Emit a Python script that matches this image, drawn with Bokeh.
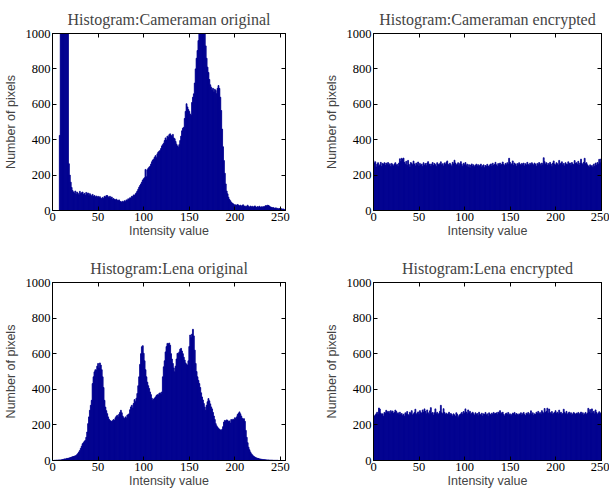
from bokeh.plotting import figure
from bokeh.layouts import column, row
from bokeh.models import ColumnDataSource, Range1d, FixedTicker, LinearAxis
from bokeh.embed import file_html
from bokeh.resources import INLINE

# ---- data (pixel counts per intensity level 0..255) ----
bins = list(range(256))

titles = ["Histogram:Cameraman original", "Histogram:Cameraman encrypted",
          "Histogram:Lena original", "Histogram:Lena encrypted"]
x_label = "Intensity value"
y_label = "Number of pixels"
x_ticks = [0, 50, 100, 150, 200, 250]
y_ticks = [0, 200, 400, 600, 800, 1000]

cam_orig = [
    0, 0, 0, 0, 0, 0, 0, 0, 424, 1450, 2600, 3100, 2900, 2400, 1900, 1500,
    1200, 1020, 264, 200, 160, 130, 113, 105, 98, 110, 92, 104, 96, 88, 108, 95,
    100, 104, 90, 97, 86, 102, 93, 99, 84, 95, 88, 80, 91, 79, 85, 76,
    82, 74, 80, 72, 78, 70, 66, 74, 68, 80, 76, 84, 85, 78, 72, 80,
    70, 76, 64, 68, 62, 60, 64, 58, 55, 60, 52, 50, 47, 52, 48, 55,
    50, 60, 56, 66, 62, 72, 70, 80, 78, 88, 85, 94, 100, 110, 120, 132,
    141, 150, 160, 172, 179, 185, 232, 190, 230, 238, 245, 250, 262, 275, 285, 290,
    301, 310, 298, 320, 330, 335, 339, 350, 365, 372, 380, 395, 410, 398, 420, 415,
    428, 433, 425, 418, 430, 410, 405, 390, 375, 365, 358, 372, 395, 420, 450, 465,
    470, 520, 560, 603, 585, 570, 560, 545, 537, 610, 640, 659, 720, 800, 860, 904,
    960, 1050, 1150, 1250, 1300, 1200, 1080, 1010, 930, 860, 810, 780, 740, 710, 697, 680,
    690, 670, 685, 678, 660, 690, 706, 690, 640, 565, 460, 360, 282, 210, 150, 110,
    94, 75, 62, 55, 47, 42, 38, 34, 30, 32, 28, 34, 30, 26, 30, 24,
    28, 32, 22, 26, 20, 24, 30, 22, 19, 25, 20, 24, 18, 22, 26, 20,
    18, 22, 19, 24, 17, 21, 18, 22, 20, 24, 28, 26, 30, 28, 24, 20,
    18, 15, 17, 14, 12, 15, 10, 12, 9, 11, 8, 10, 7, 9, 6, 4,
]

cam_enc = [
    282, 268, 275, 246, 262, 270, 251, 258, 272, 249, 266, 261, 270, 255, 268, 260,
    271, 257, 264, 248, 266, 259, 252, 263, 270, 256, 261, 249, 268, 292, 277, 295,
    289, 296, 272, 262, 278, 255, 283, 260, 246, 271, 265, 258, 279, 263, 252, 268,
    259, 274, 251, 266, 257, 262, 248, 270, 256, 265, 253, 268, 276, 259, 263, 250,
    262, 271, 254, 266, 259, 248, 270, 262, 257, 265, 275, 258, 264, 252, 269, 260,
    271, 280, 262, 255, 267, 259, 249, 272, 263, 284, 268, 257, 262, 270, 253, 265,
    276, 260, 249, 267, 258, 271, 253, 262, 246, 259, 241, 257, 263, 250, 258, 247,
    255, 262, 251, 259, 248, 256, 262, 245, 253, 258, 242, 254, 249, 261, 252, 247,
    258, 263, 251, 267, 255, 260, 272, 258, 250, 265, 259, 268, 256, 262, 274, 260,
    253, 266, 258, 270, 262, 295, 272, 259, 264, 280, 256, 268, 261, 250, 265, 258,
    270, 262, 255, 266, 259, 268, 252, 264, 257, 272, 261, 254, 267, 258, 270, 263,
    256, 268, 261, 250, 266, 259, 271, 264, 253, 268, 258, 298, 276, 262, 270, 255,
    266, 258, 272, 262, 249, 268, 280, 262, 257, 270, 264, 256, 283, 260, 268, 275,
    258, 266, 252, 270, 262, 259, 275, 264, 268, 255, 271, 263, 258, 282, 266, 270,
    261, 278, 257, 268, 290, 266, 259, 272, 295, 264, 270, 258, 252, 245, 258, 248,
    254, 243, 262, 250, 268, 256, 271, 262, 289, 270, 291, 276, 266, 284, 296, 288,
]

lena_orig = [
    0, 0, 1, 1, 2, 2, 2, 3, 3, 3, 4, 5, 6, 9, 8, 10,
    12, 11, 14, 15, 17, 19, 21, 22, 24, 26, 28, 34, 40, 48, 56, 68,
    80, 94, 100, 108, 113, 130, 160, 207, 245, 282, 310, 338, 432, 470, 498, 510,
    508, 530, 545, 520, 548, 536, 510, 470, 410, 338, 300, 280, 263, 245, 232, 225,
    222, 218, 224, 230, 226, 240, 248, 254, 245, 260, 270, 282, 268, 250, 240, 235,
    245, 238, 254, 258, 262, 285, 301, 310, 295, 320, 342, 330, 350, 376, 420, 470,
    540, 600, 639, 645, 602, 560, 510, 470, 440, 420, 404, 385, 370, 350, 338, 345,
    350, 357, 365, 370, 368, 376, 380, 372, 385, 470, 526, 560, 610, 640, 658, 655,
    660, 648, 600, 570, 545, 520, 498, 530, 570, 602, 600, 610, 625, 630, 615, 600,
    580, 564, 548, 540, 536, 560, 640, 705, 690, 710, 737, 700, 620, 545, 500, 470,
    450, 432, 410, 380, 357, 340, 320, 300, 282, 310, 330, 348, 335, 318, 301, 290,
    270, 250, 230, 207, 195, 188, 180, 176, 172, 169, 175, 190, 216, 225, 222, 228,
    226, 218, 222, 210, 230, 226, 232, 228, 240, 235, 245, 258, 265, 273, 262, 250,
    238, 232, 235, 220, 169, 130, 100, 75, 60, 48, 38, 32, 26, 22, 19, 16,
    14, 12, 11, 9, 8, 7, 6, 5, 5, 4, 4, 3, 3, 3, 2, 2,
    2, 2, 1, 1, 1, 1, 1, 1, 0, 0, 0, 0, 0, 0, 0, 0,
]

lena_enc = [
    252, 248, 256, 262, 271, 258, 295, 289, 266, 258, 262, 249, 270, 266, 282, 275,
    268, 276, 262, 280, 271, 278, 265, 270, 283, 276, 262, 268, 257, 271, 258, 264,
    252, 260, 249, 268, 262, 275, 258, 252, 271, 264, 280, 256, 262, 270, 288, 258,
    266, 273, 259, 280, 270, 265, 284, 272, 290, 276, 262, 284, 268, 258, 279, 297,
    264, 270, 255, 268, 290, 262, 271, 258, 264, 276, 310, 268, 262, 291, 270, 258,
    266, 258, 262, 271, 255, 264, 258, 249, 262, 256, 247, 268, 260, 241, 252, 258,
    262, 270, 258, 275, 266, 290, 272, 262, 284, 268, 276, 258, 266, 271, 262, 254,
    268, 258, 264, 252, 271, 260, 256, 266, 250, 262, 258, 270, 256, 262, 249, 268,
    261, 255, 266, 258, 270, 262, 264, 268, 259, 272, 266, 280, 262, 268, 271, 258,
    250, 262, 266, 258, 270, 256, 262, 251, 258, 266, 262, 270, 256, 264, 260, 253,
    262, 258, 268, 255, 263, 270, 258, 252, 266, 261, 270, 256, 264, 279, 260, 268,
    254, 262, 258, 271, 264, 276, 262, 269, 258, 280, 271, 264, 292, 270, 276, 294,
    266, 289, 270, 262, 275, 258, 266, 270, 280, 264, 271, 262, 283, 266, 271, 258,
    264, 288, 270, 262, 276, 258, 266, 272, 260, 268, 255, 262, 270, 264, 258, 266,
    262, 270, 258, 265, 272, 260, 268, 256, 262, 270, 258, 266, 293, 272, 286, 264,
    290, 268, 276, 262, 284, 270, 258, 266, 274, 262, 268, 255, 262, 258, 270, 262,
]

# ---- styling ----
BAR = "#00008F"
SERIF = "Liberation Serif"
SANS = "Liberation Sans"


def style_axis(ax, ticks, show_labels):
    ax.ticker = FixedTicker(ticks=ticks)
    ax.major_tick_in = 4
    ax.major_tick_out = 0
    ax.minor_tick_line_color = None
    ax.axis_line_color = "black"
    ax.major_tick_line_color = "black"
    if show_labels:
        ax.major_label_text_font = SERIF
        ax.major_label_text_font_size = "12.5px"
        ax.major_label_text_color = "black"
        ax.major_label_standoff = 2
    else:
        ax.major_label_text_font_size = "1px"
        ax.major_label_text_color = None
        ax.major_label_standoff = 0


def panel(title, counts, width, height, bl, br, bt, bb, xend):
    p = figure(width=width, height=height,
               x_range=Range1d(0, xend), y_range=Range1d(0, 1000),
               output_backend="svg", toolbar_location=None,
               min_border_left=bl, min_border_right=br,
               min_border_top=bt, min_border_bottom=bb)
    p.title.text = title
    p.title.text_font = SERIF
    p.title.text_font_size = "16px"
    p.title.text_font_style = "normal"
    p.title.align = "center"
    p.title.standoff = 11
    p.xgrid.visible = False
    p.ygrid.visible = False
    p.outline_line_color = "black"
    p.outline_line_alpha = 1.0

    src = ColumnDataSource(dict(x=bins, top=counts))
    p.vbar(x="x", top="top", width=1.0, bottom=0, source=src,
           fill_color=BAR, line_color=BAR, line_width=0.8)

    xa = p.xaxis[0]
    style_axis(xa, x_ticks, True)
    xa.axis_label = x_label
    xa.axis_label_text_font = SANS
    xa.axis_label_text_font_size = "12.5px"
    xa.axis_label_text_font_style = "normal"
    xa.axis_label_standoff = 0

    ya = p.yaxis[0]
    style_axis(ya, y_ticks, True)
    ya.axis_label = y_label
    ya.axis_label_text_font = SANS
    ya.axis_label_text_font_size = "12.5px"
    ya.axis_label_text_font_style = "normal"
    ya.axis_label_standoff = 5

    top_ax = LinearAxis()
    style_axis(top_ax, x_ticks, False)
    p.add_layout(top_ax, "above")
    right_ax = LinearAxis()
    style_axis(right_ax, y_ticks, False)
    p.add_layout(right_ax, "right")
    return p


p1 = panel(titles[0], cam_orig, 321, 249, 51, 36, 33, 39, 255.5)
p2 = panel(titles[1], cam_enc, 288, 249, 50, 8, 33, 39, 250.5)
p3 = panel(titles[2], lena_orig, 321, 241, 51, 36, 33, 30, 255.5)
p4 = panel(titles[3], lena_enc, 288, 241, 50, 8, 33, 30, 250.5)

layout = column(row(p1, p2), row(p3, p4))

open("out.html", "w").write(file_html(layout, INLINE))
